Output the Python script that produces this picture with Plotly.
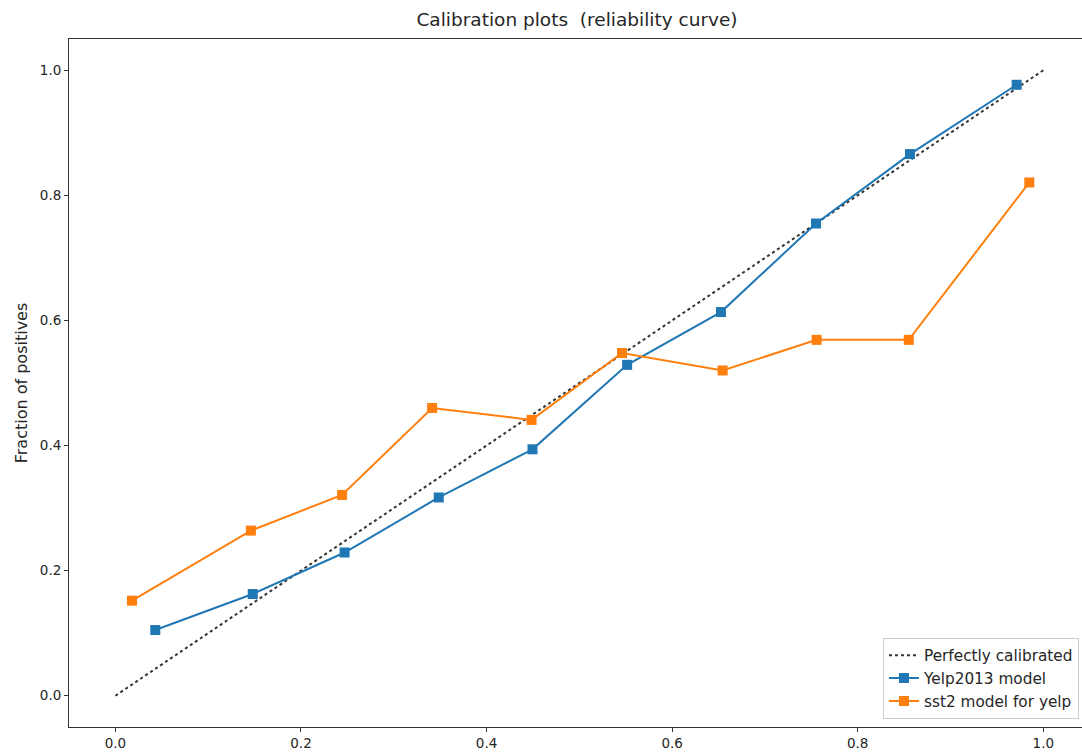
import plotly.graph_objects as go

# Perfectly calibrated reference
diag_x = [0.0, 1.0]
diag_y = [0.0, 1.0]

# Yelp2013 model
yelp_x = [0.043, 0.148, 0.247, 0.3485, 0.4495, 0.5515, 0.6526, 0.755, 0.8563, 0.9713]
yelp_y = [0.105, 0.1626, 0.229, 0.317, 0.394, 0.529, 0.6134, 0.755, 0.866, 0.9768]

# sst2 model for yelp
sst_x = [0.0179, 0.146, 0.2443, 0.3413, 0.4485, 0.546, 0.6544, 0.7557, 0.855, 0.9849]
sst_y = [0.152, 0.264, 0.321, 0.460, 0.441, 0.548, 0.520, 0.569, 0.569, 0.8206]

x_ticks = [0.0, 0.2, 0.4, 0.6, 0.8, 1.0]
y_ticks = [0.0, 0.2, 0.4, 0.6, 0.8, 1.0]

FONT = "DejaVu Sans"

fig = go.Figure()
fig.add_trace(go.Scatter(x=diag_x, y=diag_y, mode="lines", name="Perfectly calibrated",
                         line=dict(color="#333333", width=2, dash="dot")))
fig.add_trace(go.Scatter(x=yelp_x, y=yelp_y, mode="lines+markers", name="Yelp2013 model",
                         line=dict(color="#1f77b4", width=2),
                         marker=dict(symbol="square", size=10, color="#1f77b4")))
fig.add_trace(go.Scatter(x=sst_x, y=sst_y, mode="lines+markers", name="sst2 model for yelp",
                         line=dict(color="#ff7f0e", width=2),
                         marker=dict(symbol="square", size=10, color="#ff7f0e")))

fig.update_layout(
    width=1082, height=754,
    margin=dict(l=69, r=0, t=39, b=27),
    plot_bgcolor="white", paper_bgcolor="white",
    font=dict(family=FONT, size=13.5, color="#262626"),
    title=dict(text="Calibration plots  (reliability curve)", xref="paper", x=0.5015,
               xanchor="center", yref="container", y=1 - 20 / 754, yanchor="middle",
               font=dict(family=FONT, size=18.5, color="#262626")),
    showlegend=True,
    legend=dict(x=0.997, y=0.012, xanchor="right", yanchor="bottom",
                bgcolor="rgba(255,255,255,0.8)", bordercolor="#cccccc", borderwidth=1,
                font=dict(family=FONT, size=15.3, color="#262626")),
)
fig.update_xaxes(range=[-0.05, 1.0417], tickvals=x_ticks,
                 ticktext=[f"{v:.1f}" for v in x_ticks],
                 showgrid=False, zeroline=False, showline=True, linecolor="#333333",
                 linewidth=1, mirror=True, ticks="outside", ticklen=4, tickcolor="#333333")
fig.update_yaxes(range=[-0.05, 1.05], tickvals=y_ticks,
                 ticktext=[f"{v:.1f}" for v in y_ticks],
                 title=dict(text="Fraction of positives", font=dict(family=FONT, size=16), standoff=8),
                 showgrid=False, zeroline=False, showline=True, linecolor="#333333",
                 linewidth=1, mirror=False, ticks="outside", ticklen=4, tickcolor="#333333")

fig.write_html("out.html")
